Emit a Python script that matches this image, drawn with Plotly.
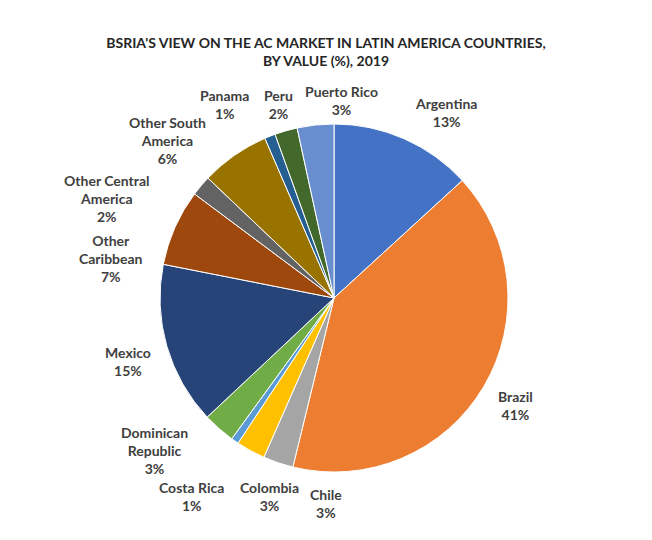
import math
import plotly.graph_objects as go

# slice values (shares of total, %)
countries = ['Argentina', 'Brazil', 'Chile', 'Colombia', 'Costa Rica',
             'Dominican<br>Republic', 'Mexico', 'Other<br>Caribbean',
             'Other Central<br>America', 'Other South<br>America',
             'Panama', 'Peru', 'Puerto Rico']
shares = [13.2, 40.6, 2.8, 2.7, 0.7, 3.0, 15.1, 7.1, 1.9, 6.4, 1.0, 2.1, 3.4]
colors = ['#4472C4', '#ED7D31', '#A5A5A5', '#FFC000', '#5B9BD5', '#70AD47',
          '#264478', '#9E480E', '#636363', '#997300', '#255E91', '#43682B',
          '#698ED0']

W, H = 652, 540
off = 8                      # page body margin
cx, cy, rad = 334 - off, 298 - off, 174   # pie centre / radius in pixels
label_r = 215
# nudges (px, right / down) to move labels where excel put them
nudge = [(25, -11), (-4, 2), (61, -2), (38, -10), (-20, -22), (-37, 9),
         (1, -4), (-26, -48), (-63, -39), (-43, -19), (-30, -6), (4, -13),
         (30, -16)]

fig = go.Figure()
fig.add_trace(go.Pie(
    labels=countries,
    values=shares,
    sort=False,
    direction='clockwise',
    rotation=0,
    marker=dict(colors=colors, line=dict(color='white', width=1)),
    textinfo='none',
    showlegend=False,
    domain=dict(x=[(cx - rad) / W, (cx + rad) / W],
                y=[1 - (cy + rad) / H, 1 - (cy - rad) / H]),
    hoverinfo='label+percent',
))

total = sum(shares)
cum = 0
for name, v, (dx, dy) in zip(countries, shares, nudge):
    mid = (cum + v / 2) / total * 2 * math.pi
    cum += v
    px = cx + label_r * math.sin(mid)
    py = cy - label_r * math.cos(mid)
    fig.add_annotation(
        x=px / W, y=1 - py / H, xref='paper', yref='paper',
        xanchor='center', yanchor='middle',
        xshift=dx, yshift=dy,
        text='<b>{}<br>{:.0f}%</b>'.format(name, v / total * 100),
        showarrow=False, align='center',
        font=dict(family='Lato', size=14, color='#404040'),
    )

fig.update_layout(
    width=W, height=H,
    margin=dict(l=0, r=0, t=0, b=0),
    paper_bgcolor='white',
    title=dict(
        text="<b>BSRIA'S VIEW ON THE AC MARKET IN LATIN AMERICA COUNTRIES,<br>BY VALUE (%), 2019</b>",
        x=(326 - off) / W, xanchor='center', y=1 - (47.5 - off) / H, yanchor='middle',
        font=dict(family='Lato', size=14, color='#262626'),
    ),
)

fig.write_html("out.html")
